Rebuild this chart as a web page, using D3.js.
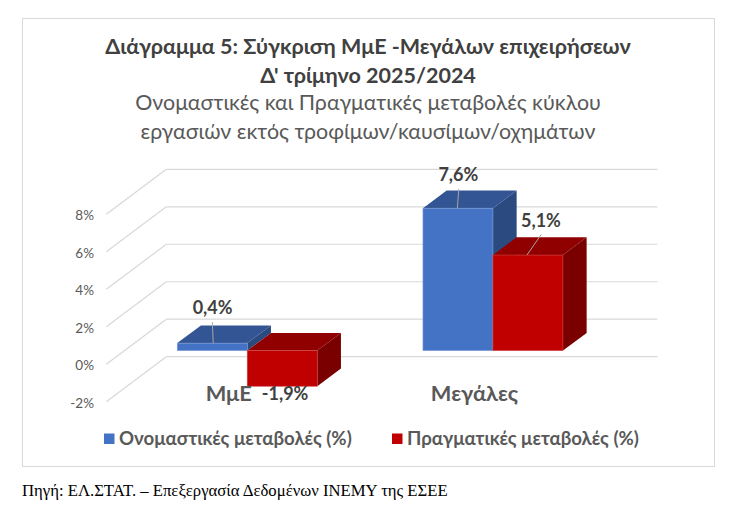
<!DOCTYPE html>
<html lang="el">
<head>
<meta charset="utf-8">
<title>Διάγραμμα 5</title>
<script src="https://cdn.jsdelivr.net/npm/d3@7/dist/d3.min.js"></script>
<style>
  html, body { margin: 0; padding: 0; background: #fff; }
  svg { display: block; }
  text { font-family: Lato, "Open Sans", "Noto Sans", sans-serif; }
</style>
</head>
<body>
<svg id="chart" width="755" height="520"></svg>
<script>
// Chart data
const categories = ["ΜμΕ", "Μεγάλες"];
const seriesNames = ["Ονομαστικές μεταβολές (%)", "Πραγματικές μεταβολές (%)"];
const nominal = [0.4, 7.6];
const real = [-1.9, 5.1];
const yTicks = [-2, 0, 2, 4, 6, 8];
const titleLines = [
  "Διάγραμμα 5: Σύγκριση ΜμΕ -Μεγάλων επιχειρήσεων",
  "Δ' τρίμηνο 2025/2024"
];
const subtitleLines = [
  "Ονομαστικές και Πραγματικές μεταβολές κύκλου",
  "εργασιών εκτός τροφίμων/καυσίμων/οχημάτων"
];
const sourceNote = "Πηγή: ΕΛ.ΣΤΑΤ. – Επεξεργασία Δεδομένων ΙΝΕΜΥ της ΕΣΕΕ";

const seriesValues = [nominal, real];
const palette = [
  { front: "#4472c4", top: "#335593", side: "#2b4a80", edge: "#7f9dd6" },
  { front: "#c00000", top: "#900000", side: "#7a0000", edge: "#d04040" }
];

const svg = d3.select("#chart");
const fmt = v => d3.format(".1f")(v).replace(".", ",").replace("\u2212", "-") + "%";

// Oblique projection: back wall, floor depth and the plane of the bars
const wallDx = 60, wallDy = 45;
const barDx = 23.7, barDy = 17.7;
const yBack = d3.scaleLinear().domain([-2, 8]).range([356.7, 169.3]);
const yFrontWall = d3.scaleLinear().domain([-2, 8]).range([356.7 + wallDy, 169.3 + wallDy]);
const yBar = d3.scaleLinear().domain([-2, 8]).range([356.7 + 31.4, 169.3 + 31.4]);

const xCat = d3.scaleBand().domain(categories).range([124.4, 615.8]);
const xSeries = d3.scaleBand().domain(d3.range(seriesNames.length))
  .range([0, xCat.bandwidth()]).paddingInner(0).paddingOuter(0.755);

// Outer frame
svg.append("rect")
  .attr("x", 22.5).attr("y", 18.5).attr("width", 692).attr("height", 448)
  .attr("fill", "#fff").attr("stroke", "#d9d9d9").attr("stroke-width", 1);

// Titles
svg.append("g").selectAll("text").data(titleLines).join("text")
  .attr("x", 368).attr("y", (d, i) => 54 + i * 29)
  .attr("text-anchor", "middle").attr("font-size", 21.5).attr("font-weight", 700)
  .attr("fill", "#404040").text(d => d);
svg.append("g").selectAll("text").data(subtitleLines).join("text")
  .attr("x", 368).attr("y", (d, i) => 110 + i * 29)
  .attr("text-anchor", "middle").attr("font-size", 21.4)
  .attr("fill", "#595959").text(d => d);

// Gridlines on the back wall and the receding side wall
const grid = svg.append("g").attr("fill", "none").attr("stroke", "#d9d9d9").attr("stroke-width", 1.2);
grid.selectAll(".back").data(yTicks).join("line").attr("class", "back")
  .attr("x1", 166.3).attr("x2", 657.5)
  .attr("y1", d => yBack(d)).attr("y2", d => yBack(d));
grid.selectAll(".side").data(yTicks).join("line").attr("class", "side")
  .attr("x1", 166.3 - wallDx).attr("x2", 166.3)
  .attr("y1", d => yFrontWall(d)).attr("y2", d => yBack(d));

// Value axis labels sit at the front edge of the side wall
const axis = d3.axisLeft(yFrontWall).tickValues(yTicks).tickSize(0).tickPadding(0)
  .tickFormat(d => d + "%");
const axisG = svg.append("g").attr("transform", "translate(94,1)").call(axis);
axisG.select(".domain").remove();
axisG.selectAll("text")
  .attr("font-size", 13.5).attr("fill", "#595959")
  .style("font-family", "Lato, 'Open Sans', sans-serif");

// Bars as three visible faces: top, side, front
const barData = [];
seriesValues.forEach((vals, s) => vals.forEach((v, c) => barData.push({ s, c, v })));
const barGroups = svg.append("g").selectAll("g").data(barData).join("g");
barGroups.each(function (d) {
  const g = d3.select(this);
  const col = palette[d.s];
  const x0 = xCat(categories[d.c]) + xSeries(d.s);
  const x1 = x0 + xSeries.bandwidth();
  const yTop = Math.min(yBar(d.v), yBar(0));
  const yBot = Math.max(yBar(d.v), yBar(0));
  const poly = (pts, fill) => g.append("polygon")
    .attr("points", pts.map(p => p.join(",")).join(" ")).attr("fill", fill);
  poly([[x0, yTop], [x0 + barDx, yTop - barDy], [x1 + barDx, yTop - barDy], [x1, yTop]], col.top);
  poly([[x1, yTop], [x1 + barDx, yTop - barDy], [x1 + barDx, yBot - barDy], [x1, yBot]], col.side);
  g.append("rect").attr("x", x0).attr("y", yTop)
    .attr("width", x1 - x0).attr("height", yBot - yTop)
    .attr("fill", col.front).attr("stroke", col.edge).attr("stroke-width", 0.6);
});

// Value labels with leader lines; placement is relative to each bar's end and centre
const labelPlacement = {
  "0-0": { text: [0.3, -29], from: 1, to: [0.1, -21] },
  "0-1": { text: [0.4, -27], from: -0.6, to: [0.8, -19] },
  "1-0": { text: [2.8, 13.7] },
  "1-1": { text: [13, -28.5], from: -1, to: [13.3, -20.6] }
};
const labels = svg.append("g");
barData.forEach(d => {
  const p = labelPlacement[`${d.s}-${d.c}`];
  const cx = xCat(categories[d.c]) + xSeries(d.s) + xSeries.bandwidth() / 2;
  const y = yBar(d.v);
  if (p.to) {
    labels.append("line")
      .attr("x1", cx + p.from).attr("y1", y)
      .attr("x2", cx + p.to[0]).attr("y2", y + p.to[1])
      .attr("stroke", "#a6a6a6").attr("stroke-width", 1);
  }
  labels.append("text")
    .attr("x", cx + p.text[0]).attr("y", y + p.text[1])
    .attr("text-anchor", "middle").attr("font-size", 18).attr("font-weight", 700)
    .attr("fill", "#404040").text(fmt(d.v));
});

// Category labels
svg.append("g").selectAll("text").data(categories).join("text")
  .attr("x", d => xCat(d) + xCat.bandwidth() / 2 - 18.5)
  .attr("y", 400.5)
  .attr("text-anchor", "middle").attr("font-size", 21.8).attr("font-weight", 700)
  .attr("fill", "#595959").text(d => d);

// Legend
const legendX = [104, 392];
const legend = svg.append("g").selectAll("g").data(seriesNames).join("g")
  .attr("transform", (d, i) => `translate(${legendX[i]},433.5)`);
legend.append("rect").attr("width", 10.5).attr("height", 10.5)
  .attr("fill", (d, i) => palette[i].front);
legend.append("text").attr("x", 15).attr("y", 11)
  .attr("font-size", 18.65).attr("font-weight", 700).attr("fill", "#595959").text(d => d);

// Source note under the frame
svg.append("text").attr("x", 22).attr("y", 496)
  .attr("font-size", 16.7).attr("fill", "#000")
  .style("font-family", "'Liberation Serif', serif").text(sourceNote);
</script>
</body>
</html>
